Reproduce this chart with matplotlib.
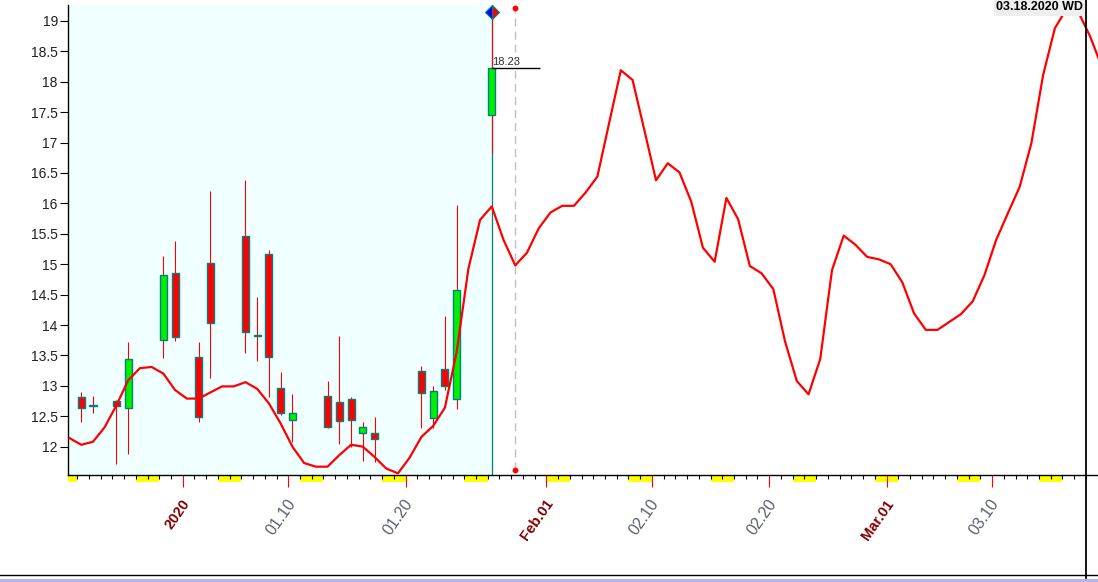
import numpy as np
import pandas as pd
import matplotlib
matplotlib.use("Agg")
import matplotlib.pyplot as plt
import matplotlib.dates as mdates
from matplotlib.patches import Rectangle
from matplotlib.lines import Line2D
from matplotlib.transforms import ScaledTranslation

plt.rcParams['font.family'] = ['Liberation Sans', 'DejaVu Sans']

# daily candles (green = up, red = down)
candle_dates = ['2019-12-23', '2019-12-24', '2019-12-26', '2019-12-27', '2019-12-30',
                '2019-12-31', '2020-01-02', '2020-01-03', '2020-01-06', '2020-01-07',
                '2020-01-08', '2020-01-09', '2020-01-10', '2020-01-13', '2020-01-14',
                '2020-01-15', '2020-01-16', '2020-01-17', '2020-01-21', '2020-01-22',
                '2020-01-23', '2020-01-24', '2020-01-27']
opens = [12.81, 12.68, 12.75, 12.63, 13.76, 14.85, 13.47, 15.02, 15.46, 13.84, 15.16, 12.96,
         12.43, 12.84, 12.73, 12.79, 12.22, 12.22, 13.24, 12.47, 13.27, 12.78, 17.45]
highs = [12.89, 12.83, 12.76, 13.72, 15.13, 15.38, 13.72, 16.20, 16.38, 14.46, 15.23, 13.23,
         12.87, 13.08, 13.82, 12.81, 12.40, 12.48, 13.33, 13.00, 14.15, 15.97, 19.14]
lows = [12.41, 12.56, 11.72, 11.88, 13.45, 13.74, 12.41, 13.13, 13.54, 13.40, 12.82, 12.52,
        12.08, 12.31, 12.05, 11.99, 11.77, 11.75, 12.31, 12.31, 12.93, 12.62, 16.83]
closes = [12.63, 12.67, 12.67, 13.44, 14.83, 13.80, 12.48, 14.04, 13.88, 13.82, 13.47, 12.56,
          12.56, 12.33, 12.42, 12.44, 12.32, 12.12, 12.88, 12.91, 13.00, 14.57, 18.23]

# smoothed line + projection, one value per calendar day from 2019-12-22
line_start = '2019-12-22'
line_values = [
    12.14, 12.03, 12.08, 12.32, 12.68, 13.09, 13.29, 13.31, 13.20, 12.93,
    12.79, 12.79, 12.89, 12.99, 12.99, 13.06, 12.95, 12.71, 12.38, 12.00,
    11.73, 11.67, 11.67, 11.86, 12.03, 12.00, 11.83, 11.64, 11.56, 11.82,
    12.16, 12.34, 12.64, 13.55, 14.92, 15.73, 15.95, 15.40, 14.98, 15.19,
    15.59, 15.85, 15.96, 15.96, 16.18, 16.44, 17.32, 18.19, 18.03, 17.21,
    16.38, 16.66, 16.51, 16.03, 15.27, 15.04, 16.09, 15.74, 14.97, 14.85,
    14.59, 13.73, 13.08, 12.86, 13.44, 14.90, 15.47, 15.32, 15.12, 15.08,
    15.00, 14.70, 14.19, 13.92, 13.92, 14.05, 14.18, 14.39, 14.82, 15.40,
    15.84, 16.27, 16.99, 18.11, 18.88, 19.20, 19.15, 18.75, 18.25,
]

major_dates = ['2020-01-01', '2020-01-10', '2020-01-20', '2020-02-01',
               '2020-02-10', '2020-02-20', '2020-03-01', '2020-03-10']
major_labels = ['2020', '01.10', '01.20', 'Feb.01', '02.10', '02.20', 'Mar.01', '03.10']
major_bold = [True, False, False, True, False, False, True, False]

y_ticks = [12, 12.5, 13, 13.5, 14, 14.5, 15, 15.5, 16, 16.5, 17, 17.5, 18, 18.5, 19]

last_date = '2020-01-27'
marker_date = '2020-01-29'
cursor_date = '2020-03-18'
last_price = 18.23

OFFSET = 0.35   # bars sit a bit right of the day tick
BODY_W = 0.6


def dnum(s):
    return mdates.date2num(pd.Timestamp(s))


fig = plt.figure(figsize=(10.98, 5.82), dpi=100)
ax = fig.add_axes([68 / 1098, 107 / 582, 1030 / 1098, 470 / 582])
ax.set_facecolor('white')

x0 = dnum('2020-01-01') - 9.78
x1 = dnum('2020-01-01') + 78.03

last_x = dnum(last_date) + OFFSET
ax.axvspan(x0, last_x, color='#f0ffff', zorder=0.5)
ax.axvline(last_x, color='#008080', lw=0.9, zorder=2)

# candles
cx = mdates.date2num(pd.to_datetime(candle_dates)) + OFFSET
ax.vlines(cx, lows, highs, color='#ff0000', lw=0.8, zorder=3)
for xi, o, c in zip(cx, opens, closes):
    col = '#00f000' if c > o else '#ff0000'
    h = max(abs(c - o), 0.02)
    ax.add_patch(Rectangle((xi - BODY_W / 2, min(o, c)), BODY_W, h,
                           fc=col, ec='#008080', lw=1, zorder=4))

# line
lx = mdates.date2num(pd.date_range(line_start, periods=len(line_values), freq='D')) + OFFSET
ax.plot(lx, line_values, color='#ff0000', lw=1.6, zorder=5)

# last price marker
ax.plot(last_x, highs[-1], marker='D', ms=7, fillstyle='left', mfc='#0000ff',
        mfcalt='#ff0000', mec='#008080', mew=0.8, zorder=6, clip_on=False)
ax.hlines(last_price, last_x, last_x + 4.1, color='black', lw=1, zorder=6)
ax.text(last_x + 0.05, last_price + 0.02, f'{last_price:.2f}', fontsize=8,
        color='#303030', ha='left', va='bottom', zorder=6)

# dashed marker line
mx = dnum(marker_date) + OFFSET
ax.vlines(mx, 11.62, 19.21, colors='#c0c0c0', lw=1, linestyles=(0, (5.8, 3.6)), zorder=2)
ax.plot([mx, mx], [19.21, 11.62], 'o', color='#ff0000', ms=3.2, zorder=6, clip_on=False)

# cursor
ax.axvline(dnum(cursor_date), ymin=-0.219, ymax=1.02, color='black', lw=1.3,
           clip_on=False, zorder=7)
fig.text(1083 / 1098, 1 - 7.5 / 582, '03.18.2020 WD', ha='right', va='center',
         fontsize=9, weight='bold', color='black',
         bbox=dict(boxstyle='square,pad=0.16', fc='#eeeeee', ec='none'))

# weekends under the axis
for d in pd.date_range('2019-12-21', '2020-03-20', freq='D'):
    if d.weekday() >= 5:
        a = max(dnum(d), x0)
        b = min(dnum(d) + 1, x1)
        if b > a:
            ax.add_patch(Rectangle((a, -0.015), b - a, 0.015, transform=ax.get_xaxis_transform(),
                                   fc='#ffff00', ec='none', clip_on=False, zorder=1))

# axes styling
for s in ['top', 'right']:
    ax.spines[s].set_visible(False)
ax.spines['left'].set_linewidth(1)
ax.spines['bottom'].set_linewidth(1)

ax.set_yticks(y_ticks)
ax.set_yticklabels([f'{v:g}' for v in y_ticks])
ax.tick_params(axis='y', length=5.8, width=0.8, pad=1.5, labelsize=10, labelcolor='#202020')

ax.set_xticks(mdates.date2num(pd.date_range('2019-12-21', '2020-03-20', freq='D')), minor=True)
ax.set_xticks([dnum(d) for d in major_dates])
ax.tick_params(axis='x', which='minor', length=3, width=0.8, color='black')
ax.tick_params(axis='x', which='major', length=8.6, width=0.8, color='#ff0000', labelbottom=False)

# limits last: set_xticks widens the view otherwise
ax.set_xlim(x0, x1)
ax.set_ylim(11.533, 19.263)

lab_tr = ax.get_xaxis_transform() + ScaledTranslation(0.04, -0.26, fig.dpi_scale_trans)
for d, lab, b in zip(major_dates, major_labels, major_bold):
    if b:
        ax.text(dnum(d), 0, lab, transform=lab_tr, rotation=55, rotation_mode='anchor',
                ha='right', va='center', fontsize=10.5, weight='bold', color='#800000')
    else:
        ax.text(dnum(d), 0, lab, transform=lab_tr, rotation=55, rotation_mode='anchor',
                ha='right', va='center', fontsize=11.5, color='#5a5f6a')

# bottom frame
fig.add_artist(Line2D([0, 1], [7 / 582, 7 / 582], transform=fig.transFigure, color='black', lw=1))
fig.add_artist(Rectangle((0, 0), 1, 3.5 / 582, transform=fig.transFigure, fc='#b4b4f0', ec='none'))

fig.savefig('out.png', dpi=100)
